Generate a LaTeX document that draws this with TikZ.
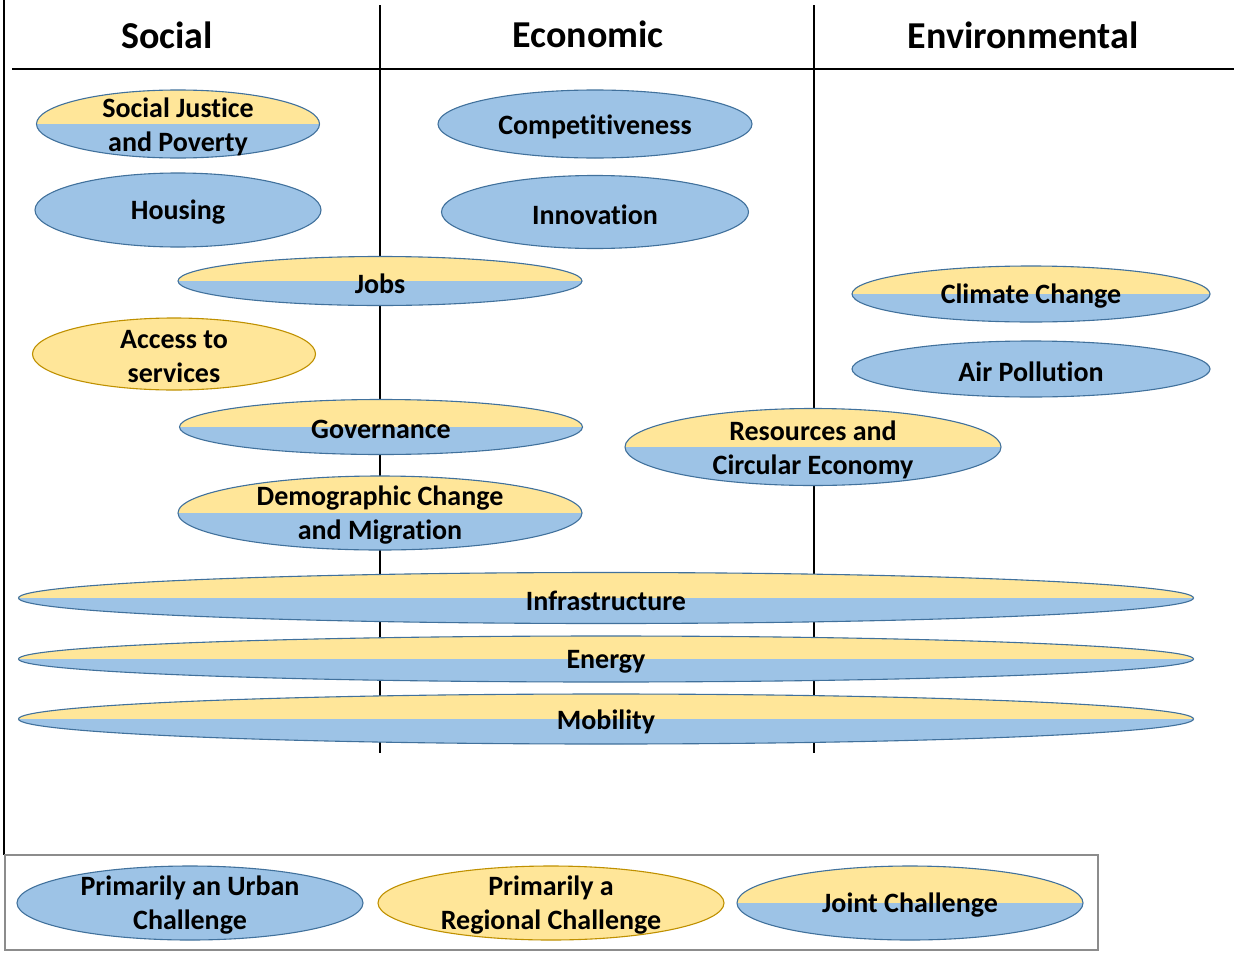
\documentclass[tikz,border=0pt]{standalone}
\usepackage{fontspec}
\setmainfont{Carlito}[Ligatures={NoCommon}]
\usetikzlibrary{shapes.geometric}
\definecolor{blu}{RGB}{157,195,230}
\definecolor{yel}{RGB}{255,230,153}
\definecolor{bluline}{RGB}{65,113,156}
\definecolor{yelline}{RGB}{191,144,0}
\definecolor{boxline}{RGB}{140,140,140}
\tikzset{
  ell/.style={ellipse, inner sep=0pt, line width=1.1pt},
  urban/.style={ell, fill=blu, draw=bluline},
  regional/.style={ell, fill=yel, draw=yelline},
  joint/.style={ell, fill=blu, draw=bluline,
    path picture={\fill[yel] (path picture bounding box.north west) rectangle ([yshift=-0.1pt]path picture bounding box.east);}},
  txt/.style={font=\fontsize{28}{34}\selectfont\bfseries, align=center, inner sep=0pt},
  head/.style={font=\fontsize{38}{44}\selectfont\bfseries, inner sep=0pt},
  rule/.style={line width=2.8pt, black},
}
\newcommand{\ellnode}[6]{%
  \node[#1, minimum width=#4pt, minimum height=#5pt] (#2) at #3 {};
  \node[txt, yshift=-2.5pt] (#2-t) at (#2.center) {#6};}
\begin{document}
\begin{tikzpicture}[x=1pt,y=-1pt]
\useasboundingbox (0,0) rectangle (1236,953);
% frame lines
\coordinate (lt) at (4,0);
\coordinate (lb) at (4,855);
\draw[line width=2pt] (lt) -- (lb);
\coordinate (hl) at (12,69);
\coordinate (hr) at (1234,69);
\draw[rule] (hl) -- (hr);
\coordinate (v1t) at (380,5);
\coordinate (v1b) at (380,753);
\coordinate (v2t) at (814,5);
\coordinate (v2b) at (814,753);
\draw[rule] (v1t) -- (v1b);
\draw[rule] (v2t) -- (v2b);
% headers
\node[head] (hs) at (167,35) {Social};
\node[head] (he) at (588,34) {Economic};
\node[head] (hv) at (1023,35) {Environmental};
% ellipses
\ellnode{joint}{sjp}{(178,124)}{283}{68}{Social Justice\\and Poverty}
\ellnode{urban}{hou}{(178,210)}{286}{74}{Housing}
\ellnode{urban}{com}{(595,124)}{314}{68}{Competitiveness}
\ellnode{urban}{inn}{(595,212)}{307}{73}{Innovation}
\ellnode{joint}{job}{(380,281)}{404}{49}{Jobs}
\ellnode{regional}{acc}{(174,354)}{283}{72}{Access to\\services}
\ellnode{joint}{cli}{(1031,294)}{358}{56}{Climate Change}
\ellnode{urban}{air}{(1031,369)}{358}{56}{Air Pollution}
\ellnode{joint}{gov}{(381,427)}{403}{55}{Governance}
\ellnode{joint}{res}{(813,447)}{376}{77}{Resources and\\Circular Economy}
\ellnode{joint}{dem}{(380,513)}{404}{74}{Demographic Change\\and Migration}
\ellnode{joint}{inf}{(606,598)}{1175}{51}{Infrastructure}
\ellnode{joint}{ene}{(606,659)}{1175}{46}{Energy}
\ellnode{joint}{mob}{(606,719)}{1175}{50}{Mobility}
% legend
\node[draw=boxline, line width=1.3pt, minimum width=1093pt, minimum height=95pt, inner sep=0pt] (leg) at (551.5,902.5) {};
\ellnode{urban}{lu}{(190,903)}{346}{74}{Primarily an Urban\\Challenge}
\ellnode{regional}{lr}{(551,903)}{346}{74}{Primarily a\\Regional Challenge}
\ellnode{joint}{lj}{(910,903)}{346}{74}{Joint Challenge}
\end{tikzpicture}
\end{document}
